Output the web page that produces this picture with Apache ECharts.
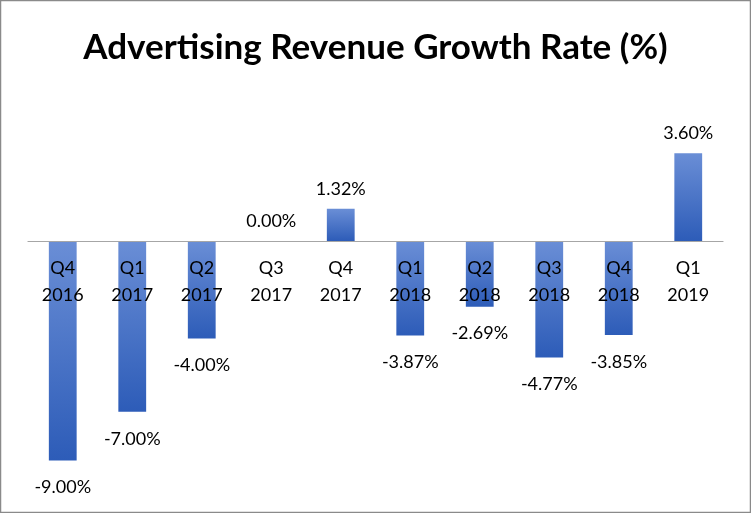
<!DOCTYPE html>
<html><head><meta charset="utf-8">
<script src="https://cdn.jsdelivr.net/npm/echarts@6/dist/echarts.min.js"></script>
<style>html,body{margin:0;padding:0;background:#fff}#c{width:751px;height:513px}</style>
</head><body><div id="c"></div>
<script>
const quarters = ["Q4","Q1","Q2","Q3","Q4","Q1","Q2","Q3","Q4","Q1"];
const years = ["2016","2017","2017","2017","2017","2018","2018","2018","2018","2019"];
const growth = [-9.00,-7.00,-4.00,0.00,1.32,-3.87,-2.69,-4.77,-3.85,3.60];
const categories = quarters.map((q,i)=>q+"\n"+years[i]);

const chart = echarts.init(document.getElementById('c'));
const grad = new echarts.graphic.LinearGradient(0,0,0,1,[{offset:0,color:'#6a8ed6'},{offset:1,color:'#2d5cb8'}]);
chart.setOption({
  animation:false,
  title:{text:'Advertising Revenue Growth Rate (%)',left:'center',top:25,
    textStyle:{fontFamily:'Lato',fontWeight:'bold',fontSize:35,color:'#000'}},
  graphic:[{type:'rect',shape:{x:0.5,y:0.5,width:750,height:512},style:{fill:'none',stroke:'#8a8a8a',lineWidth:1.5},silent:true}],
  grid:{left:28,right:28,top:119,bottom:28,containLabel:false,outerBoundsMode:'none'},
  xAxis:{type:'category',data:categories,z:10,position:'bottom',offset:-244,
    axisLine:{onZero:false,lineStyle:{color:'#a6a6a6',width:1.2}},
    axisTick:{show:false},
    axisLabel:{margin:14,fontFamily:'Lato',fontSize:18,color:'#000',lineHeight:27,interval:0}},
  yAxis:{type:'value',min:-10,max:5,show:false,splitLine:{show:false}},
  series:[{type:'bar',data:growth.map(v=>({value:v,label:{position:v<0?'bottom':'top',distance:v<0?18:11}})),
    barWidth:'40%',itemStyle:{color:grad},
    label:{show:true,fontFamily:'Lato',fontSize:18,color:'#000',formatter:p=>p.value.toFixed(2)+'%'}}]
});
</script></body></html>
